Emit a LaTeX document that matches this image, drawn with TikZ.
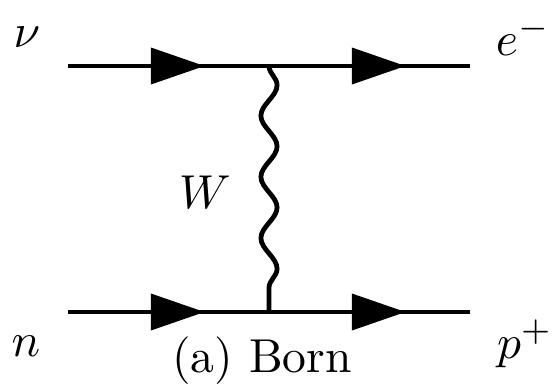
\documentclass[tikz,border=0pt]{standalone}
\usetikzlibrary{arrows.meta,decorations.markings,decorations.pathmorphing}

\begin{document}
\begin{tikzpicture}[x=0.21pt,y=0.21pt]
        \tikzset{
            fermion/.style={
                line width=1pt,
                postaction={decorate},
                decoration={markings,
                    mark=at position 0.68 with {\arrow{Triangle[length=11.3pt,width=7.5pt]}}}
            },
            boson/.style={
                line width=1pt,
                decorate,
                decoration={snake,amplitude=1.7pt,segment length=12.85pt}
            },
            particle/.style={anchor=base,inner sep=0pt}
        }
        \useasboundingbox (0,0) rectangle (555,389);

        \coordinate (nuin) at (68,323);
        \coordinate (vtop) at (269,323);
        \coordinate (eout) at (470,323);
        \coordinate (nin) at (68,77);
        \coordinate (vbot) at (269,77);
        \coordinate (pout) at (470,77);

        \node[particle] (nulabel) at (27,342) {$\nu$};
        \node[particle] (elabel) at (523,334) {$e^-$};
        \node[particle] (nlabel) at (26,33) {$n$};
        \node[particle] (plabel) at (525,31) {$p^+$};
        \node[particle] (wlabel) at (205,181) {$W$};
        \node[particle] (caption) at (262,17) {(a) Born};

        \draw[fermion] (nuin) -- (vtop);
        \draw[fermion] (vtop) -- (eout);
        \draw[fermion] (nin) -- (vbot);
        \draw[fermion] (vbot) -- (pout);
        \draw[boson] (vtop) -- (vbot);
    \end{tikzpicture}
\end{document}
